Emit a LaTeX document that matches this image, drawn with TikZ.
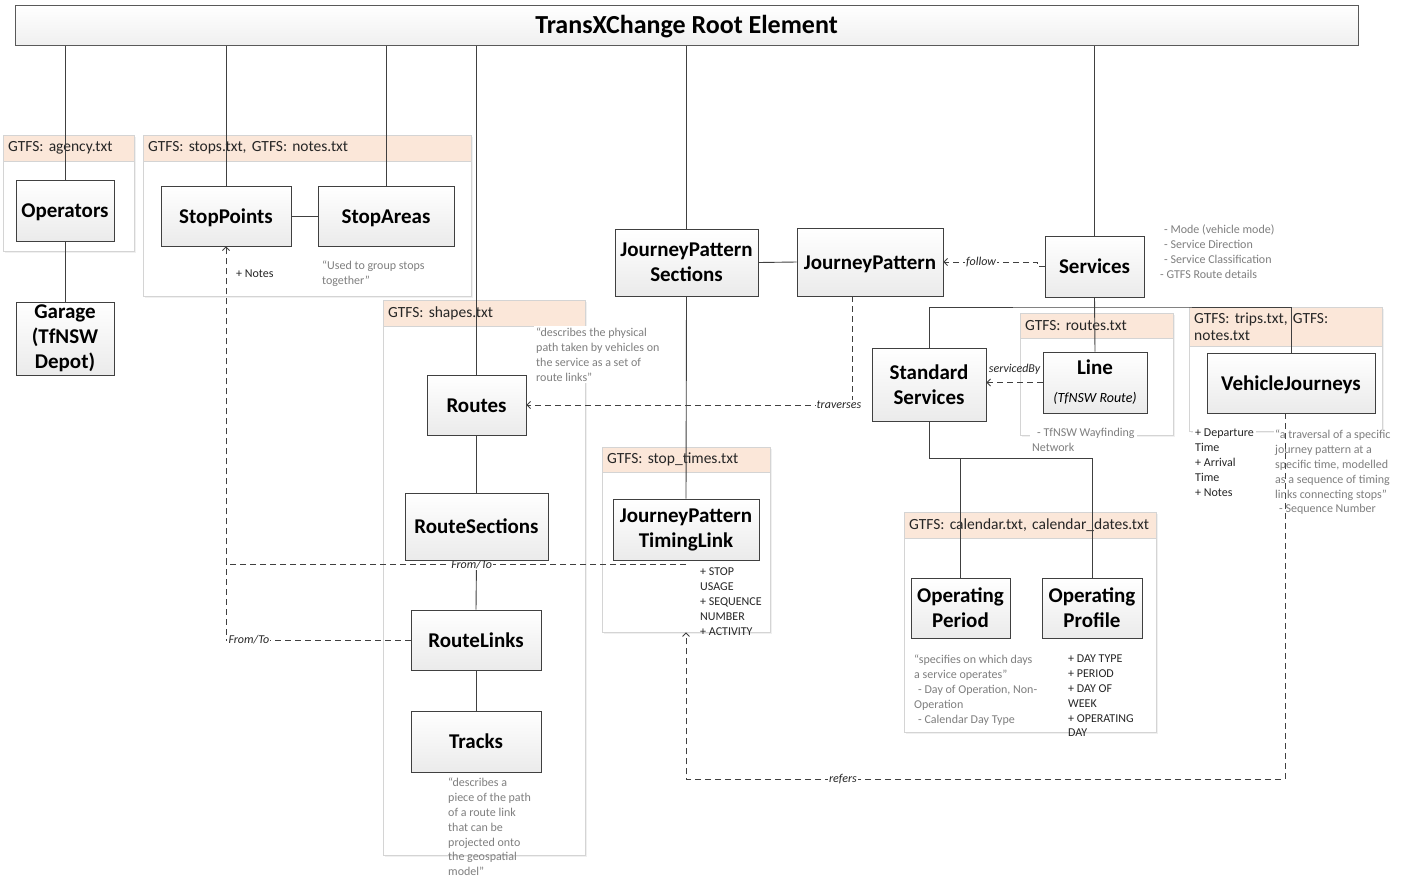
\documentclass[tikz,border=0pt]{standalone}
\usepackage{fontspec}
\setmainfont{Carlito}
\usetikzlibrary{arrows.meta,shadows,calc}
\pgfdeclarelayer{grp}
\pgfdeclarelayer{ln}
\pgfsetlayers{grp,ln,main}
\definecolor{peach}{HTML}{FBE7D9}
\definecolor{grpline}{HTML}{D4D4D4}
\definecolor{edge}{HTML}{404040}
\definecolor{notegray}{HTML}{7F7F7F}
\definecolor{ink}{HTML}{262626}

\tikzset{
  cls/.style={draw=edge, line width=0.9pt, top color=white, bottom color=gray!16,
    align=center, inner sep=0pt, text=black,
    font=\fontsize{21}{25}\selectfont\bfseries,
    drop shadow={shadow xshift=1.2pt, shadow yshift=-1.2pt, fill=gray!30, opacity=1}},
  oneline/.style={text height=15pt, text depth=1pt},
  rootbar/.style={draw=gray!70!black, line width=1pt, top color=white, bottom color=gray!12,
    inner sep=0pt, font=\fontsize{26}{30}\selectfont\bfseries,
    text height=20pt, text depth=3pt,
    drop shadow={shadow xshift=1.2pt, shadow yshift=-1.2pt, fill=gray!25, opacity=1}},
  grpbox/.style={fill=white, draw=none, inner sep=0pt,
    drop shadow={shadow xshift=1.5pt, shadow yshift=-1.5pt, fill=gray!12, opacity=1}},
  grphead/.style={fill=peach, draw=none, inner xsep=5pt, inner ysep=0pt, align=left,
    text=ink, font=\fontsize{15.5}{17.5}\selectfont\frenchspacing},
  grpborder/.style={draw=grpline, line width=1pt},
  conn/.style={draw=edge, line width=0.9pt},
  dep/.style={draw=edge, line width=0.8pt, dash pattern=on 6pt off 4pt,
    -{Straight Barb[length=3.5pt,width=7pt]}},
  lbl/.style={fill=white, inner sep=1.2pt, text=ink,
    font=\fontsize{12}{14}\selectfont\itshape},
  note/.style={anchor=north west, inner sep=0pt, align=left, text=ink,
    font=\fontsize{12}{14.8}\selectfont\frenchspacing},
  gnote/.style={note, text=notegray},
}

% a class box given by its corners
\newcommand\umlbox[7][]{%
  \pgfmathsetmacro\ubw{#5-#3}\pgfmathsetmacro\ubh{#6-#4}%
  \node[cls, #1, minimum width=\ubw, minimum height=\ubh] (#2) at ({(#3+#5)/2},{(#4+#6)/2}) {#7};}

% a GTFS file group: name, corners, bottom of the header, header text
\newcommand\gtfsbox[7]{%
  \pgfmathsetmacro\gbw{#4-#2}\pgfmathsetmacro\gbh{#5-#3}%
  \pgfmathsetmacro\ghh{#6-#3}\pgfmathsetmacro\ghtw{#4-#2-10}%
  \node[grpbox, minimum width=\gbw, minimum height=\gbh, anchor=north west] (#1) at (#2,#3) {};
  \node[grphead, text width=\ghtw pt, minimum height=\ghh, anchor=north west] (#1h) at (#2,#3) {#7};
  \draw[grpborder] (#1h.south west) -- (#1h.south east);
  \draw[grpborder] (#1.south west) rectangle (#1.north east);}

\begin{document}
\frenchspacing
\begin{tikzpicture}[x=1pt,y=-1pt]
\useasboundingbox (0,0) rectangle (1408,879);

\begin{pgfonlayer}{grp}
  \fill[white] (0,0) rectangle (1408,879);
  \gtfsbox{gAgency}{3}{135}{134}{251}{161}{GTFS: agency.txt}
  \gtfsbox{gStops}{143}{135}{471}{296}{161}{GTFS: stops.txt, GTFS: notes.txt}
  \gtfsbox{gShapes}{383}{300}{585}{855}{326}{GTFS: shapes.txt}
  \gtfsbox{gStopTimes}{602}{447}{770}{632}{472}{GTFS: stop\_times.txt}
  \gtfsbox{gRoutes}{1020}{313}{1173}{435}{338}{GTFS: routes.txt}
  \gtfsbox{gTrips}{1189}{307}{1382}{431}{346}{GTFS: trips.txt, GTFS:\\notes.txt}
  \gtfsbox{gCal}{904}{512}{1156}{732}{538}{GTFS: calendar.txt, calendar\_dates.txt}
  % description of vehicle journeys: it hides the group border, lines run over it
  \node[gnote, fill=white, inner xsep=1pt] (nTrav) at (1274,430)
    {“a traversal of a specific\\journey pattern at a\\specific time, modelled\\as a sequence of timing\\links connecting stops”\\\hspace*{4pt}- Sequence Number};
\end{pgfonlayer}

% root element
\node[rootbar, minimum width=1343, minimum height=40] (root) at (686.5,25) {TransXChange Root Element};

% classes
\umlbox[oneline]{Operators}{16}{180}{114}{241}{Operators}
\umlbox{Garage}{16}{302}{114}{375}{Garage\\(TfNSW\\Depot)}
\umlbox[oneline]{StopPoints}{161}{186}{291}{246}{StopPoints}
\umlbox[oneline]{StopAreas}{318}{186}{454}{246}{StopAreas}
\umlbox{JPS}{615}{229}{758}{296}{JourneyPattern\\Sections}
\umlbox[oneline]{JP}{797}{228}{943}{296}{JourneyPattern}
\umlbox[oneline]{Services}{1045}{236}{1144}{297}{Services}
\umlbox{StdSvc}{872}{348}{986}{421}{Standard\\Services}
\umlbox{Line}{1043}{352}{1147}{413}{Line\\[3pt]{\fontsize{14}{17}\selectfont\mdseries\itshape (TfNSW Route)}}
\umlbox[oneline]{VJ}{1207}{353}{1375}{413}{VehicleJourneys}
\umlbox[oneline]{Routes}{427}{375}{526}{435}{Routes}
\umlbox[oneline]{RouteSections}{405}{493}{548}{560}{RouteSections}
\umlbox[oneline]{RouteLinks}{411}{610}{541}{670}{RouteLinks}
\umlbox[oneline]{Tracks}{411}{711}{541}{772}{Tracks}
\umlbox{JPTL}{613}{499}{759}{560}{JourneyPattern\\TimingLink}
\umlbox{OpPeriod}{911}{578}{1010}{638}{Operating\\Period}
\umlbox{OpProfile}{1042}{578}{1142}{638}{Operating\\Profile}

% attribute and description texts
\node[note] (nNotes) at (236,270) {+ Notes};
\node[gnote] (nAreas) at (322,261) {“Used to group stops\\together”};
\node[gnote, fill=white, inner xsep=2pt, inner ysep=2pt] (nShapes) at (534,326)
  {“describes the physical\\path taken by vehicles on\\the service as a set of\\route links”};
\node[gnote] (nSvc) at (1160,225)
  {\hspace*{4pt}- Mode (vehicle mode)\\\hspace*{4pt}- Service Direction\\\hspace*{4pt}- Service Classification\\- GTFS Route details};
\node[gnote, fill=white, inner xsep=2pt, inner ysep=1pt] (nWay) at (1030,427)
  {\hspace*{5pt}- TfNSW Wayfinding\\Network};
\node[note, fill=white, inner xsep=2pt, inner ysep=1pt] (nVJ) at (1193,428)
  {+ Departure\\Time\\+ Arrival\\Time\\+ Notes};
\node[note] (nTL) at (700,568) {+ STOP\\USAGE\\+ SEQUENCE\\NUMBER\\+ ACTIVITY};
\node[gnote] (nOP) at (914,655)
  {“specifies on which days\\a service operates”\\\hspace*{4pt}- Day of Operation, Non-\\Operation\\\hspace*{4pt}- Calendar Day Type};
\node[note] (nOProf) at (1068,655) {+ DAY TYPE\\+ PERIOD\\+ DAY OF\\WEEK\\+ OPERATING\\DAY};
\node[gnote] (nTracks) at (448,778)
  {“describes a\\piece of the path\\of a route link\\that can be\\projected onto\\the geospatial\\model”};

\begin{pgfonlayer}{ln}
  % children of the root element
  \foreach \c in {Operators,StopPoints,StopAreas,Routes,JPS,Services}
    \draw[conn] (\c.north |- root.south) -- (\c.north);
  % aggregations
  \draw[conn] (Operators.south) -- (Garage.north);
  \draw[conn] (StopPoints.east) -- (StopAreas.west);
  \draw[conn] (JPS.east) -- (JP.west);
  \draw[conn] (JPS.south) -- (JPTL.north);
  \draw[conn] (Routes.south) -- (RouteSections.north);
  \draw[conn] (RouteSections.south) -- (RouteLinks.north);
  \draw[conn] (RouteLinks.south) -- (Tracks.north);
  \coordinate (svcHub) at (Services.south |- 0,307);
  \draw[conn] (Services.south) -- (Line.north);
  \draw[conn] (StdSvc.north) |- (svcHub) -| (VJ.north);
  \coordinate (calHub) at (OpProfile.north |- 0,458);
  \draw[conn] (StdSvc.south) |- (calHub) -- (OpProfile.north);
  \draw[conn] (OpPeriod.north) -- (OpPeriod.north |- calHub);
  % dependencies
  \draw[dep] (Services.west) -- ++(-7,0) |- (JP.east) node[lbl, pos=0.8] {follow};
  \draw[dep] ([xshift=-18pt]JP.south) |- (Routes.east) node[lbl, pos=0.52] {traverses};
  \draw[dep] (Line.west) -- (Line.west -| StdSvc.east)
    node[lbl, fill=none, midway, above=6pt] {servicedBy};
  \coordinate (ftA) at ([yshift=-4pt]JPTL.south);
  \draw[dep] (ftA) -| (StopPoints.south) node[lbl, pos=0.233] {From/To};
  \draw[dep, -] (RouteLinks.west) -| (ftA -| StopPoints.south) node[lbl, pos=0.438] {From/To};
  \draw[dep] ([xshift=-6pt]VJ.south) -- ++(0,366) -| (JPTL.south |- gStopTimes.south)
    node[lbl, pos=0.369] {refers};
\end{pgfonlayer}
\end{tikzpicture}
\end{document}
